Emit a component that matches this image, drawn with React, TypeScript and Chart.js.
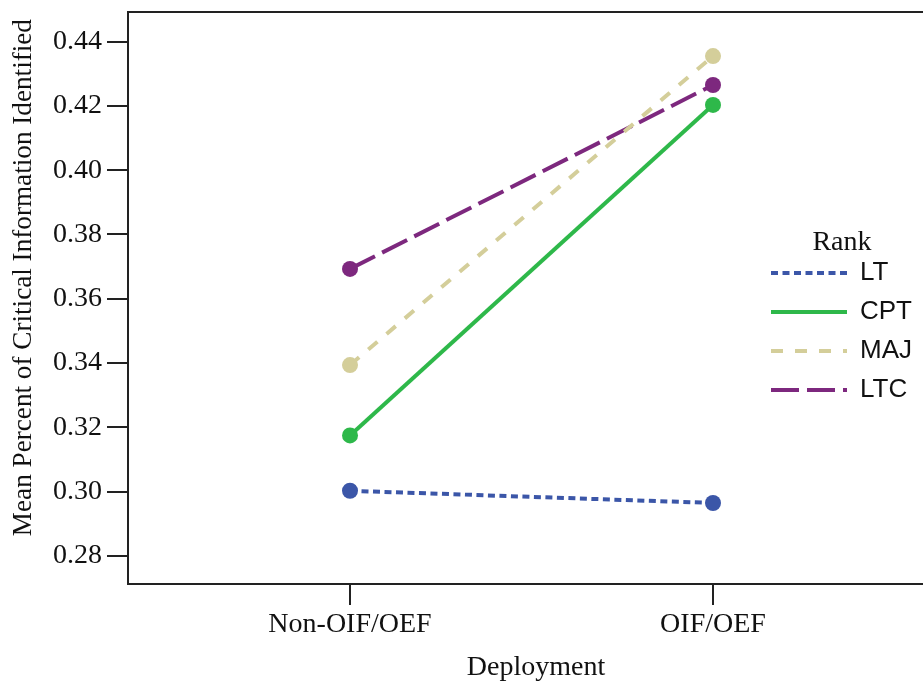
import React, { useEffect, useRef } from 'react';
import { Chart, registerables } from 'chart.js';

Chart.register(...registerables);

// ---- data ----
const categories = ['Non-OIF/OEF', 'OIF/OEF'];
const seriesNames = ['LT', 'CPT', 'MAJ', 'LTC'];
const ltValues = [0.3003, 0.2965];
const cptValues = [0.3175, 0.4203];
const majValues = [0.3394, 0.4355];
const ltcValues = [0.3693, 0.4265];
const yTickValues = [0.28, 0.3, 0.32, 0.34, 0.36, 0.38, 0.4, 0.42, 0.44];
const yMin = 0.2713;
const yMax = 0.4492;
const xMin = -0.6116;
const xMax = 1.5785;

const seriesValues = [ltValues, cptValues, majValues, ltcValues];
const colors = ['#3b56a8', '#2eb84a', '#d4ce9a', '#7d287e'];
const dashes: number[][] = [[7, 4.5], [], [12, 12], [28, 8]];

const SERIF = '"Liberation Serif", "Times New Roman", serif';
const SANS = '"Liberation Sans", Arial, sans-serif';
const AXIS = '#222';

const framePlugin = {
  id: 'frame',
  beforeDraw(chart: any) {
    const lg = chart.legend;
    if (lg) {
      lg.left = 758;
      lg.top = 228.5;
      lg.width = 168;
      lg.height = 220;
      lg.right = lg.left + lg.width;
      lg.bottom = lg.top + lg.height;
    }
  },
  beforeDatasetsDraw(chart: any) {
    const { ctx, chartArea } = chart;
    ctx.save();
    ctx.strokeStyle = AXIS;
    ctx.lineWidth = 2;
    ctx.beginPath();
    ctx.moveTo(chartArea.left - 1, chartArea.top);
    ctx.lineTo(chartArea.right, chartArea.top);
    ctx.stroke();
    ctx.restore();
  },
};

export default function App() {
  const canvasRef = useRef<HTMLCanvasElement | null>(null);

  useEffect(() => {
    document.body.style.margin = '0';
    const canvas = canvasRef.current;
    if (!canvas) return;

    const chart = new Chart(canvas, {
      type: 'line',
      data: {
        datasets: seriesNames.map((name, i) => ({
          label: name,
          data: seriesValues[i].map((v, j) => ({ x: j, y: v })),
          borderColor: colors[i],
          backgroundColor: colors[i],
          borderWidth: 4,
          borderDash: dashes[i],
          borderCapStyle: 'butt',
          pointRadius: 8,
          pointHoverRadius: 8,
          pointBackgroundColor: colors[i],
          pointBorderWidth: 0,
          tension: 0,
          fill: false,
        })),
      },
      options: {
        animation: false,
        responsive: false,
        events: [],
        layout: { autoPadding: false, padding: { top: 12, right: 0, left: 0, bottom: 0 } },
        scales: {
          x: {
            type: 'linear',
            min: xMin,
            max: xMax,
            afterBuildTicks: (scale: any) => {
              scale.ticks = categories.map((_, i) => ({ value: i }));
            },
            afterFit: (scale: any) => {
              scale.height = 99;
              scale.paddingLeft = 0;
              scale.paddingRight = 0;
            },
            border: { display: true, color: AXIS, width: 2 },
            grid: {
              display: true,
              drawOnChartArea: false,
              drawTicks: true,
              tickLength: 21,
              color: AXIS,
              lineWidth: 2,
            },
            ticks: {
              padding: 3,
              maxRotation: 0,
              autoSkip: false,
              color: '#111',
              font: { family: SERIF, size: 28 },
              callback: (v: any) => categories[Math.round(Number(v))] ?? '',
            },
            title: {
              display: true,
              text: '   Deployment',
              color: '#111',
              font: { family: SERIF, size: 28 },
              padding: { top: 0, bottom: -1 },
            },
          },
          y: {
            type: 'linear',
            min: yMin,
            max: yMax,
            afterBuildTicks: (scale: any) => {
              scale.ticks = yTickValues.map((v) => ({ value: v }));
            },
            afterFit: (scale: any) => {
              scale.width = 128;
              scale.paddingTop = 0;
              scale.paddingBottom = 0;
            },
            border: { display: true, color: AXIS, width: 2 },
            grid: {
              display: true,
              drawOnChartArea: false,
              drawTicks: true,
              tickLength: 21,
              color: AXIS,
              lineWidth: 2,
            },
            ticks: {
              padding: 5,
              color: '#111',
              font: { family: SERIF, size: 28 },
              callback: (v: any) => Number(v).toFixed(2),
            },
            title: {
              display: true,
              text: '      Mean Percent of Critical Information Identified',
              color: '#111',
              font: { family: SERIF, size: 27.2 },
              padding: { top: 8, bottom: 0 },
            },
          },
        },
        plugins: {
          tooltip: { enabled: false },
          legend: {
            display: true,
            position: 'chartArea',
            fullSize: false,
            align: 'start',
            title: {
              display: true,
              text: 'Rank',
              color: '#111',
              position: 'center',
              font: { family: SERIF, size: 28, lineHeight: '18.5px' },
              padding: 0,
            },
            labels: {
              usePointStyle: true,
              pointStyle: 'line',
              pointStyleWidth: 76,
              padding: 13,
              color: '#111',
              font: { family: SANS, size: 26 },
              generateLabels: (c: any) =>
                c.data.datasets.map((ds: any, i: number) => ({
                  text: ds.label,
                  strokeStyle: ds.borderColor,
                  fillStyle: ds.borderColor,
                  lineWidth: 4,
                  lineDash: ds.borderDash,
                  lineCap: 'butt',
                  pointStyle: 'line',
                  hidden: false,
                  datasetIndex: i,
                  fontColor: '#111',
                })),
            },
          },
        },
      } as any,
      plugins: [framePlugin],
    });

    return () => chart.destroy();
  }, []);

  return (
    <div style={{ width: 923, height: 683, position: 'relative', background: '#fff' }}>
      <canvas ref={canvasRef} width={923} height={683} style={{ display: 'block' }} />
    </div>
  );
}
